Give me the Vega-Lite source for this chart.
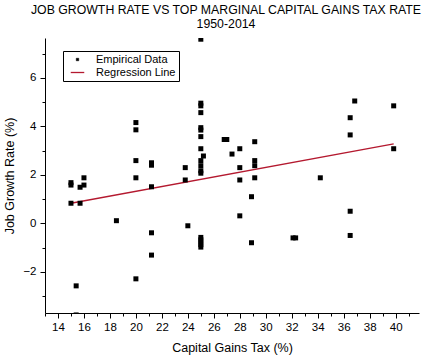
{
  "$schema": "https://vega.github.io/schema/vega-lite/v6.json",
  "width": 374,
  "height": 275,
  "autosize": "none",
  "padding": {"left": 45, "top": 38, "right": 28, "bottom": 51},
  "background": "white",
  "config": {
    "view": {"stroke": null},
    "font": "Liberation Sans"
  },
  "title": {
    "text": ["JOB GROWTH RATE VS TOP MARGINAL CAPITAL GAINS TAX RATE", "1950-2014\u00a0\u00a0\u00a0\u00a0\u00a0\u00a0\u00a0\u00a0\u00a0\u00a0"],
    "font": "Liberation Sans",
    "fontSize": 12.3,
    "fontWeight": "normal",
    "color": "black",
    "anchor": "middle",
    "frame": "group",
    "baseline": "bottom",
    "lineHeight": 14,
    "offset": -5,
    "dx": -6
  },
  "datasets": {
    "pts": [
      {"tax": 15.0, "growth": 1.68}, {"tax": 15.0, "growth": 1.58}, {"tax": 15.0, "growth": 0.83},
      {"tax": 15.4, "growth": -2.58}, {"tax": 15.4, "growth": -3.78},
      {"tax": 15.7, "growth": 1.49}, {"tax": 15.7, "growth": 0.83},
      {"tax": 16.0, "growth": 1.88}, {"tax": 16.0, "growth": 1.58},
      {"tax": 18.5, "growth": 0.11},
      {"tax": 20.0, "growth": 4.16}, {"tax": 20.0, "growth": 3.86}, {"tax": 20.0, "growth": 2.59},
      {"tax": 20.0, "growth": 1.88}, {"tax": 20.0, "growth": -2.29},
      {"tax": 21.2, "growth": 2.5}, {"tax": 21.2, "growth": 2.4}, {"tax": 21.2, "growth": 1.51},
      {"tax": 21.2, "growth": -0.39}, {"tax": 21.2, "growth": -1.31},
      {"tax": 23.8, "growth": 2.3}, {"tax": 23.8, "growth": 1.79}, {"tax": 24.0, "growth": -0.1},
      {"tax": 25.0, "growth": 7.6}, {"tax": 25.0, "growth": 4.96}, {"tax": 25.0, "growth": 4.85},
      {"tax": 25.0, "growth": 4.57}, {"tax": 25.0, "growth": 3.95}, {"tax": 25.0, "growth": 3.85},
      {"tax": 25.0, "growth": 3.58}, {"tax": 25.0, "growth": 3.08}, {"tax": 25.2, "growth": 2.78},
      {"tax": 25.0, "growth": 2.59}, {"tax": 25.0, "growth": 2.38}, {"tax": 25.0, "growth": 2.17},
      {"tax": 25.0, "growth": 2.07}, {"tax": 25.0, "growth": -0.58}, {"tax": 25.0, "growth": -0.68},
      {"tax": 25.0, "growth": -0.78}, {"tax": 25.0, "growth": -0.88}, {"tax": 25.0, "growth": -0.98},
      {"tax": 26.8, "growth": 3.46}, {"tax": 27.0, "growth": 3.46}, {"tax": 27.4, "growth": 2.86},
      {"tax": 28.0, "growth": 3.08}, {"tax": 28.0, "growth": 2.3}, {"tax": 28.0, "growth": 1.79},
      {"tax": 28.0, "growth": 0.31}, {"tax": 28.9, "growth": 1.1}, {"tax": 28.9, "growth": -0.8},
      {"tax": 29.15, "growth": 3.37}, {"tax": 29.15, "growth": 2.59}, {"tax": 29.15, "growth": 2.38},
      {"tax": 29.15, "growth": 1.88},
      {"tax": 32.1, "growth": -0.6}, {"tax": 32.3, "growth": -0.6},
      {"tax": 34.2, "growth": 1.88},
      {"tax": 36.5, "growth": 4.36}, {"tax": 36.5, "growth": 3.65}, {"tax": 36.5, "growth": 0.5},
      {"tax": 36.5, "growth": -0.5}, {"tax": 36.85, "growth": 5.05},
      {"tax": 39.85, "growth": 4.85}, {"tax": 39.85, "growth": 3.08}
    ],
    "fit": [
      {"tax": 15.0, "growth": 0.83},
      {"tax": 39.85, "growth": 3.28}
    ]
  },
  "layer": [
    {
      "data": {"name": "fit"},
      "mark": {"type": "line", "strokeWidth": 1.3},
      "encoding": {
        "x": {
          "field": "tax", "type": "quantitative",
          "scale": {"domain": [13, 41.8], "nice": false, "zero": false},
          "axis": {
            "orient": "bottom",
            "values": [13,14,15,16,17,18,19,20,21,22,23,24,25,26,27,28,29,30,31,32,33,34,35,36,37,38,39,40,41],
            "labels": false, "title": null, "grid": false, "domain": false,
            "tickSize": 3, "tickColor": "black", "tickWidth": 1
          }
        },
        "y": {
          "field": "growth", "type": "quantitative",
          "scale": {"domain": [-3.7, 7.65], "nice": false, "zero": false},
          "axis": {
            "orient": "left",
            "values": [-3,-2,-1,0,1,2,3,4,5,6,7],
            "labels": false, "title": null, "grid": false, "domain": false,
            "tickSize": 3, "tickColor": "black", "tickWidth": 1
          }
        },
        "color": {
          "datum": "Regression Line",
          "type": "nominal",
          "scale": {"domain": ["Empirical Data", "Regression Line"], "range": ["black", "#b4192f"]},
          "legend": {
            "title": null,
            "orient": "none",
            "legendX": 18,
            "legendY": 13,
            "direction": "vertical",
            "strokeColor": "black",
            "fillColor": "white",
            "padding": 3,
            "symbolSize": 100,
            "symbolOffset": 6,
            "symbolStrokeWidth": 1.2,
            "labelOffset": 13,
            "labelFont": "Liberation Sans",
            "labelFontSize": 11,
            "labelColor": "black",
            "rowPadding": 1,
            "encode": {
              "symbols": {
                "update": {
                  "shape": {"signal": "datum.value === 'Empirical Data' ? 'M-0.25,-0.25H0.25V0.25H-0.25Z' : 'M-1.35,0H1.35'"},
                  "fill": {"signal": "datum.value === 'Empirical Data' ? 'black' : 'transparent'"},
                  "stroke": {"signal": "datum.value === 'Empirical Data' ? 'black' : '#b4192f'"},
                  "strokeWidth": {"signal": "datum.value === 'Empirical Data' ? 0.5 : 1.3"},
                  "opacity": {"value": 1}
                }
              }
            }
          }
        }
      }
    },
    {
      "data": {"name": "pts"},
      "mark": {"type": "square", "size": 25, "opacity": 1, "clip": true},
      "encoding": {
        "x": {
          "field": "tax", "type": "quantitative",
          "title": "Capital Gains Tax (%)",
          "axis": {
            "orient": "bottom",
            "values": [14,16,18,20,22,24,26,28,30,32,34,36,38,40],
            "grid": false, "domainColor": "black", "domainWidth": 1,
            "tickSize": 5, "tickColor": "black", "tickWidth": 1,
            "labelFont": "Liberation Sans", "labelFontSize": 11.5, "labelColor": "black",
            "labelPadding": 3,
            "titleFont": "Liberation Sans", "titleFontSize": 12.5, "titleFontWeight": "normal",
            "titleColor": "black", "titlePadding": 9
          }
        },
        "y": {
          "field": "growth", "type": "quantitative",
          "title": "Job Growth Rate (%)",
          "axis": {
            "orient": "left",
            "values": [-2,0,2,4,6],
            "grid": false, "domainColor": "black", "domainWidth": 1,
            "tickSize": 5, "tickColor": "black", "tickWidth": 1,
            "labelFont": "Liberation Sans", "labelFontSize": 11.5, "labelColor": "black",
            "labelPadding": 4,
            "titleFont": "Liberation Sans", "titleFontSize": 12.5, "titleFontWeight": "normal",
            "titleColor": "black", "titlePadding": 6
          }
        },
        "color": {"datum": "Empirical Data", "type": "nominal"}
      }
    }
  ],
  "resolve": {"axis": {"x": "independent", "y": "independent"}}
}
